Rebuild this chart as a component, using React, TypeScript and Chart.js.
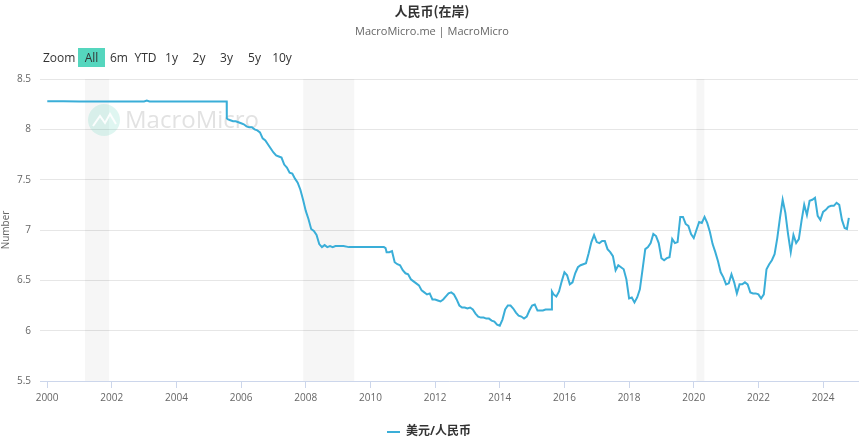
import React, { useEffect, useRef } from "react";
import { Chart, registerables } from "chart.js";

Chart.register(...registerables);

// ---- data ----
const dates: string[] = [
  "2000-01-03","2000-07-01","2001-01-01","2001-07-01","2002-01-01","2002-07-01","2003-01-01","2003-02-01","2003-03-01","2003-07-01","2004-01-01","2004-07-01","2005-01-01","2005-07-01","2005-07-21",
  "2005-07-22","2005-08-01","2005-09-01","2005-10-01","2005-11-01","2005-12-01",
  "2006-01-01","2006-02-01","2006-03-01","2006-04-01","2006-05-01","2006-06-01","2006-07-01","2006-08-01","2006-09-01","2006-10-01","2006-11-01","2006-12-01",
  "2007-01-01","2007-02-01","2007-03-01","2007-04-01","2007-05-01","2007-06-01","2007-07-01","2007-08-01","2007-09-01","2007-10-01","2007-11-01","2007-12-01",
  "2008-01-01","2008-02-01","2008-03-01","2008-04-01","2008-05-01","2008-06-01","2008-07-01","2008-08-01","2008-09-01","2008-10-01","2008-11-01","2008-12-01",
  "2009-01-01","2009-03-01","2009-05-01","2009-07-01","2009-09-01","2009-11-01",
  "2010-01-01","2010-03-01","2010-06-01","2010-06-20","2010-07-01","2010-08-01","2010-09-01","2010-10-01","2010-11-01","2010-12-01",
  "2011-01-01","2011-02-01","2011-03-01","2011-04-01","2011-05-01","2011-06-01","2011-07-01","2011-08-01","2011-09-01","2011-10-01","2011-11-01","2011-12-01",
  "2012-01-01","2012-02-01","2012-03-01","2012-04-01","2012-05-01","2012-06-01","2012-07-01","2012-08-01","2012-09-01","2012-10-01","2012-11-01","2012-12-01",
  "2013-01-01","2013-02-01","2013-03-01","2013-04-01","2013-05-01","2013-06-01","2013-07-01","2013-08-01","2013-09-01","2013-10-01","2013-11-01","2013-12-01",
  "2014-01-01","2014-02-01","2014-03-01","2014-04-01","2014-05-01","2014-06-01","2014-07-01","2014-08-01","2014-09-01","2014-10-01","2014-11-01","2014-12-01",
  "2015-01-01","2015-02-01","2015-03-01","2015-04-01","2015-05-01","2015-06-01","2015-07-01","2015-08-10","2015-08-12","2015-09-01","2015-10-01","2015-11-01","2015-12-01",
  "2016-01-01","2016-02-01","2016-03-01","2016-04-01","2016-05-01","2016-06-01","2016-07-01","2016-08-01","2016-09-01","2016-10-01","2016-11-01","2016-12-01",
  "2017-01-01","2017-02-01","2017-03-01","2017-04-01","2017-05-01","2017-06-01","2017-07-01","2017-08-01","2017-09-01","2017-10-01","2017-11-01","2017-12-01",
  "2018-01-01","2018-02-01","2018-03-01","2018-04-01","2018-05-01","2018-06-01","2018-07-01","2018-08-01","2018-09-01","2018-10-01","2018-11-01","2018-12-01",
  "2019-01-01","2019-02-01","2019-03-01","2019-04-01","2019-05-01","2019-06-01","2019-07-01","2019-08-01","2019-09-01","2019-10-01","2019-11-01","2019-12-01",
  "2020-01-01","2020-02-01","2020-03-01","2020-04-01","2020-05-01","2020-06-01","2020-07-01","2020-08-01","2020-09-01","2020-10-01","2020-11-01","2020-12-01",
  "2021-01-01","2021-02-01","2021-03-01","2021-04-01","2021-05-01","2021-06-01","2021-07-01","2021-08-01","2021-09-01","2021-10-01","2021-11-01","2021-12-01",
  "2022-01-01","2022-02-01","2022-03-01","2022-04-01","2022-05-01","2022-06-01","2022-07-01","2022-08-01","2022-09-01","2022-10-01","2022-11-01","2022-12-01",
  "2023-01-01","2023-02-01","2023-03-01","2023-04-01","2023-05-01","2023-06-01","2023-07-01","2023-08-01","2023-09-01","2023-10-01","2023-11-01","2023-12-01",
  "2024-01-01","2024-02-01","2024-03-01","2024-04-01","2024-05-01","2024-06-01","2024-07-01","2024-08-01","2024-09-01","2024-09-27","2024-10-18"
];

const usdCny: number[] = [
  8.279,8.280,8.277,8.277,8.277,8.277,8.277,8.285,8.277,8.277,8.277,8.277,8.277,8.277,8.277,
  8.11,8.10,8.09,8.08,8.08,8.07,
  8.06,8.05,8.03,8.02,8.02,8.00,7.99,7.97,7.91,7.89,7.85,7.81,
  7.77,7.74,7.73,7.72,7.65,7.62,7.57,7.56,7.51,7.47,7.40,7.30,
  7.19,7.11,7.01,6.99,6.95,6.86,6.83,6.85,6.83,6.84,6.83,6.84,
  6.84,6.84,6.83,6.83,6.83,6.83,
  6.83,6.83,6.83,6.82,6.78,6.78,6.79,6.68,6.66,6.65,
  6.60,6.57,6.56,6.51,6.49,6.47,6.45,6.40,6.38,6.36,6.37,6.31,
  6.31,6.30,6.29,6.31,6.34,6.37,6.38,6.36,6.31,6.25,6.23,6.23,
  6.22,6.23,6.21,6.17,6.14,6.13,6.13,6.12,6.12,6.10,6.09,6.06,
  6.05,6.11,6.21,6.25,6.25,6.22,6.18,6.15,6.14,6.12,6.14,6.20,
  6.25,6.26,6.20,6.20,6.20,6.21,6.21,6.21,6.39,6.36,6.34,6.39,6.49,
  6.58,6.55,6.46,6.48,6.57,6.63,6.65,6.66,6.67,6.77,6.88,6.95,
  6.88,6.87,6.89,6.89,6.81,6.78,6.74,6.60,6.65,6.63,6.61,6.51,
  6.32,6.33,6.28,6.33,6.41,6.61,6.81,6.83,6.87,6.96,6.94,6.87,
  6.72,6.70,6.72,6.73,6.91,6.87,6.88,7.13,7.13,7.06,7.04,6.96,
  6.92,7.00,7.08,7.07,7.13,7.07,6.98,6.86,6.78,6.69,6.58,6.53,
  6.46,6.47,6.56,6.48,6.37,6.46,6.46,6.48,6.46,6.38,6.37,6.37,
  6.36,6.32,6.36,6.61,6.66,6.70,6.76,6.92,7.12,7.30,7.17,6.96,
  6.78,6.95,6.87,6.91,7.09,7.25,7.15,7.29,7.30,7.32,7.14,7.10,
  7.18,7.20,7.23,7.24,7.24,7.27,7.25,7.10,7.02,7.01,7.12
];

const xTicks: number[] = [2000,2002,2004,2006,2008,2010,2012,2014,2016,2018,2020,2022,2024];
const yTicks: number[] = [5.5,6,6.5,7,7.5,8,8.5];

// recession bands (decimal years)
const bandStart: number[] = [2001.17, 2007.92, 2020.08];
const bandEnd: number[] = [2001.92, 2009.5, 2020.33];

const rangeButtons: string[] = ["All","6m","YTD","1y","2y","3y","5y","10y"];

const toYear = (d: string): number => {
  const [y, m, dd] = d.split("-").map(Number);
  return y + (m - 1) / 12 + (dd - 1) / 365;
};

const FONT = "'Open Sans', 'Noto Sans CJK SC', sans-serif";

const bandsPlugin = {
  id: "bands",
  beforeDatasetsDraw(chart: any) {
    const { ctx, chartArea, scales } = chart;
    const xs = scales.x;
    ctx.save();
    // recession bands
    for (let i = 0; i < bandStart.length; i++) {
      const x0 = xs.getPixelForValue(bandStart[i]);
      const x1 = xs.getPixelForValue(bandEnd[i]);
      ctx.fillStyle = "rgba(0,0,0,0.035)";
      ctx.fillRect(x0, chartArea.top, x1 - x0, chartArea.bottom - chartArea.top);
    }
    // watermark
    ctx.beginPath();
    ctx.arc(104, 120, 16, 0, Math.PI * 2);
    ctx.fillStyle = "rgba(110,215,190,0.22)";
    ctx.fill();
    ctx.strokeStyle = "rgba(255,255,255,0.9)";
    ctx.lineWidth = 2;
    ctx.beginPath();
    ctx.moveTo(93, 126);
    ctx.lineTo(100, 116);
    ctx.lineTo(105, 123);
    ctx.lineTo(110, 114);
    ctx.lineTo(116, 124);
    ctx.stroke();
    ctx.font = `24px ${FONT}`;
    ctx.fillStyle = "rgba(190,190,190,0.45)";
    ctx.textBaseline = "middle";
    ctx.fillText("MacroMicro", 125, 121);
    ctx.restore();
  },
};

export default function App() {
  const ref = useRef<HTMLCanvasElement | null>(null);

  useEffect(() => {
    document.body.style.margin = "0";
    if (!ref.current) return;
    const points = dates.map((d, i) => ({ x: toYear(d), y: usdCny[i] }));
    const chart = new Chart(ref.current, {
      type: "line",
      data: {
        datasets: [
          {
            label: "美元/人民币",
            data: points,
            borderColor: "#3aaed8",
            backgroundColor: "#3aaed8",
            borderWidth: 2,
            pointRadius: 0,
            tension: 0,
          },
        ],
      },
      options: {
        responsive: false,
        animation: false,
        devicePixelRatio: 1,
        layout: { padding: { top: 79, right: 6, left: 0, bottom: -8 } },
        plugins: {
          title: { display: false },
          tooltip: { enabled: false },
          legend: {
            position: "bottom",
            labels: {
              usePointStyle: true,
              pointStyle: "line",
              pointStyleWidth: 13,
              color: "#333333",
              font: { family: FONT, size: 12, weight: "bold" },
              padding: 4,
            },
          },
        },
        scales: {
          x: {
            type: "linear",
            min: 1999.78,
            max: 2025.08,
            afterBuildTicks: (s: any) => {
              s.ticks = xTicks.map((v) => ({ value: v }));
            },
            afterFit: (s: any) => {
              s.height = 41;
            },
            ticks: {
              color: "#666666",
              font: { family: FONT, size: 10 },
              padding: 4,
              maxRotation: 0,
              autoSkip: false,
              callback: (v: any) => String(v),
            },
            grid: {
              drawOnChartArea: false,
              drawTicks: true,
              tickLength: 7,
              color: "#ccd6eb",
            },
            border: { color: "#ccd6eb" },
          },
          y: {
            min: 5.5,
            max: 8.5,
            afterBuildTicks: (s: any) => {
              s.ticks = yTicks.map((v) => ({ value: v }));
            },
            afterFit: (s: any) => {
              s.width = 40;
            },
            ticks: {
              color: "#666666",
              font: { family: FONT, size: 10 },
              padding: 9,
              callback: (v: any) => String(v),
            },
            grid: { color: "#e6e6e6", drawTicks: false },
            border: { display: false },
            title: {
              display: true,
              text: "Number",
              color: "#666666",
              font: { family: FONT, size: 10 },
              padding: 0,
            },
          },
        },
      },
      plugins: [bandsPlugin],
    });
    return () => chart.destroy();
  }, []);

  const btnCenters = [91.5, 119, 145.5, 171.5, 199, 226.5, 254.5, 282];

  return (
    <div style={{ position: "relative", width: 864, height: 440, fontFamily: FONT }}>
      <canvas ref={ref} width={864} height={440} style={{ position: "absolute", left: 0, top: 0 }} />
      <div style={{ position: "absolute", left: 0, top: 2, width: 864, textAlign: "center", fontSize: 13, fontWeight: "bold", color: "#333", lineHeight: "18px", fontFamily: "'Noto Sans CJK SC', sans-serif" }}>
        人民币(在岸)
      </div>
      <div style={{ position: "absolute", left: 0, top: 23, width: 864, textAlign: "center", fontSize: 11, color: "#666", lineHeight: "16px" }}>
        MacroMicro.me | MacroMicro
      </div>
      <div style={{ position: "absolute", left: 43, top: 48, height: 19, lineHeight: "19px", fontSize: 12, color: "#333" }}>Zoom</div>
      {rangeButtons.map((b, i) => (
        <div
          key={b}
          style={{
            position: "absolute",
            left: btnCenters[i] - 13.5,
            top: 48,
            width: 27,
            height: 19,
            lineHeight: "19px",
            textAlign: "center",
            fontSize: 12,
            color: "#333",
            background: i === 0 ? "#55d6be" : "transparent",
          }}
        >
          {b}
        </div>
      ))}
    </div>
  );
}
